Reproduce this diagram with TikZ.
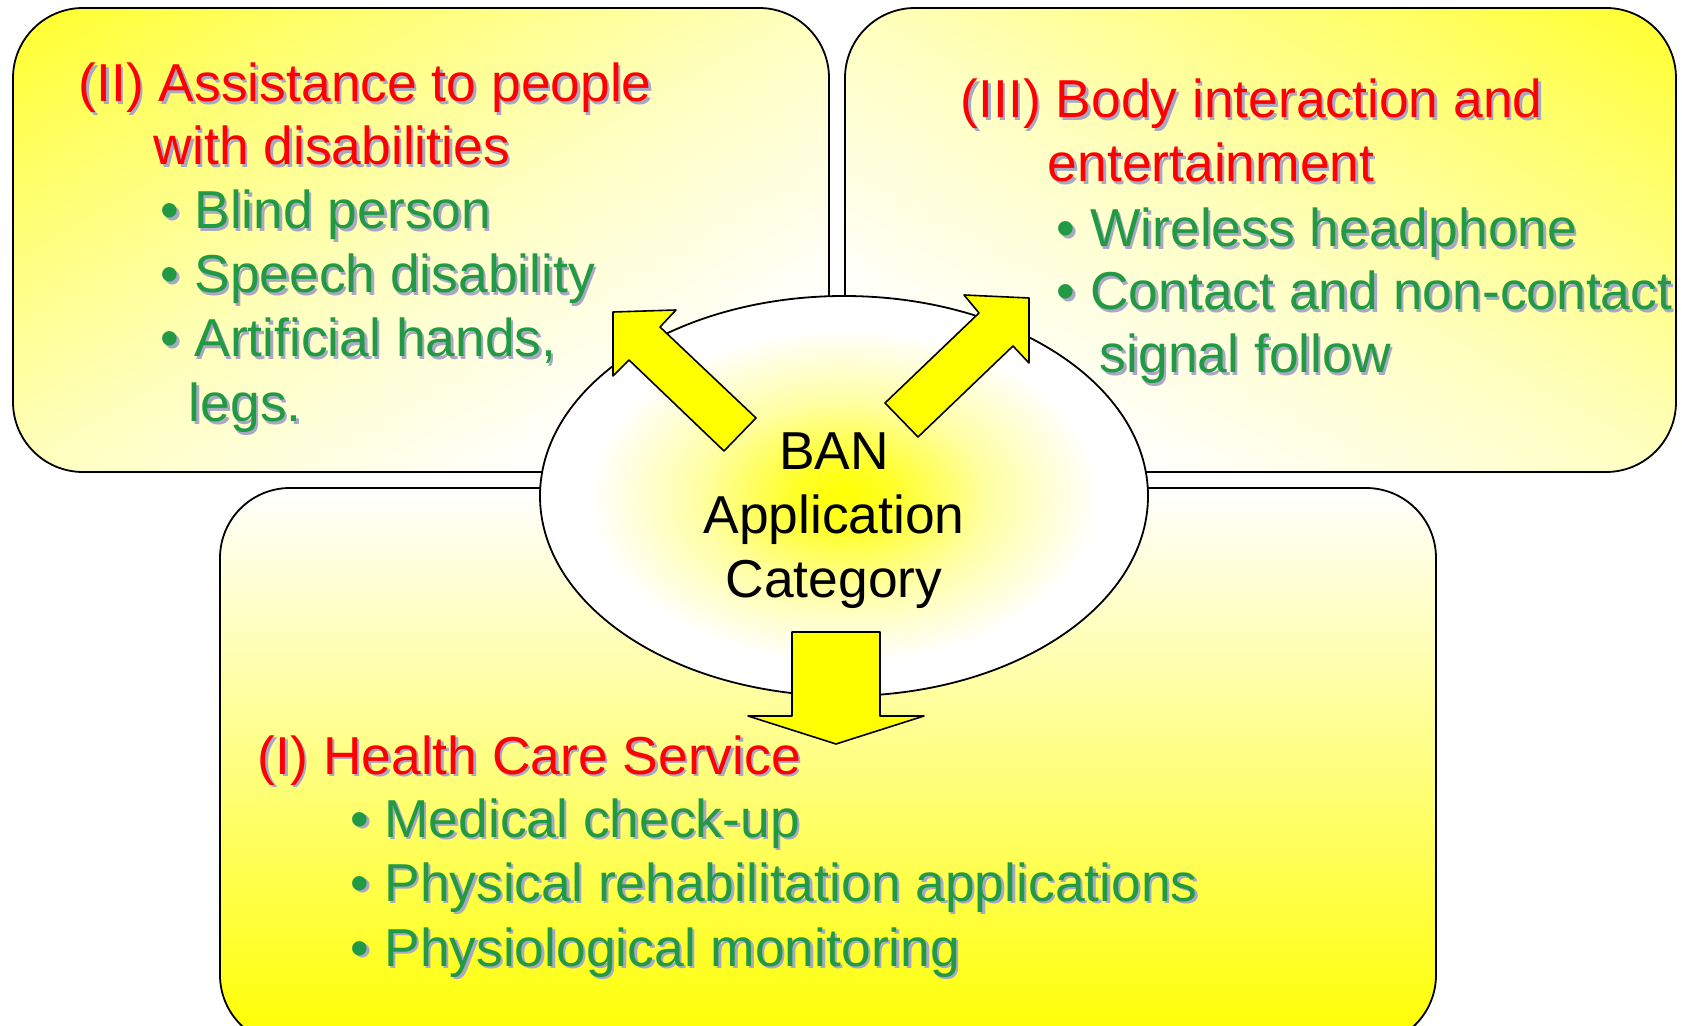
\documentclass[tikz,border=0pt]{standalone}
\usepackage{fontspec}
\setmainfont{Liberation Sans}
\usepackage{tikz}
\usetikzlibrary{shapes,arrows}
\usetikzlibrary{calc}

\definecolor{banred}{RGB}{255,0,0}
\definecolor{bangreen}{RGB}{34,153,68}
\definecolor{banyellow}{RGB}{255,255,0}
\definecolor{banshadow}{RGB}{168,168,196}

% corner fade for the upper panels, glow for the centre
\pgfdeclareverticalshading{cornerfade}{100bp}{color(0bp)=(white); color(28bp)=(white); color(50bp)=(banyellow!25); color(72bp)=(banyellow!60); color(93bp)=(banyellow); color(100bp)=(banyellow)}
\pgfdeclareradialshading{banglow}{\pgfpoint{0bp}{0bp}}{color(0bp)=(banyellow); color(4bp)=(banyellow!85); color(12bp)=(banyellow!35); color(21bp)=(white); color(50bp)=(white)}

% text with a soft grey drop shadow
\newcommand{\shadowtext}[2]{\rlap{\kern1.2pt\raisebox{-1.2pt}{\textcolor{banshadow}{#2}}}\textcolor{#1}{#2}}

\tikzstyle{every node}=[font=\fontsize{26.7}{32}\selectfont,inner sep=0pt]
\tikzstyle{every path}=[line width=0.9pt,line join=round]
\tikzstyle{item}=[anchor=base west]
\tikzstyle{panel}=[draw=black,rounded corners=35pt]
\tikzstyle{blockarrow}=[draw=black,fill=banyellow,line width=0.8pt]

\begin{document}
\begin{tikzpicture}[x=0.5pt,y=-0.5pt]
\useasboundingbox (0,0) rectangle (1682,1026);

% the three panels
\draw [panel,shading=cornerfade,shading angle=30] (13,8) rectangle (829,472);
\draw [panel,shading=cornerfade,shading angle=-29] (845,8) rectangle (1676,472);
\draw [panel,top color=white,bottom color=banyellow] (220,488) rectangle (1436,1045);

% centre ellipse
\draw [shading=banglow] (844,496) ellipse (304 and 200);

% block arrows
\draw [blockarrow] (724,451) -- (629,360) -- (613,376) -- (613,312) -- (676,310) -- (660,327) -- (756,418) -- cycle;
\draw [blockarrow] (885,403) -- (979,313) -- (964,295) -- (1029,298) -- (1029,363) -- (1013,346) -- (918,437) -- cycle;
\draw [blockarrow] (792,632) -- (880,632) -- (880,716) -- (924,716) -- (836,744) -- (748,716) -- (792,716) -- cycle;

 \node [anchor=base] (ban) at (834,470) {BAN};
 \node [anchor=base] (application) at (834,533) {Application};
 \node [anchor=base] (category) at (834,597) {Category};

% (II)
\node [item] (assistA) at (78,102) {\shadowtext{banred}{(II) Assistance to people}};
\node [item] (assistB) at (153,165) {\shadowtext{banred}{with disabilities}};
\node [item] (blind) at (160,229) {\shadowtext{bangreen}{• Blind person}};
\node [item] (speech) at (160,293) {\shadowtext{bangreen}{• Speech disability}};
\node [item] (artificial) at (160,357) {\shadowtext{bangreen}{• Artificial hands,}};
\node [item] (legs) at (188,422) {\shadowtext{bangreen}{legs.}};

% (III)
\node [item] (bodyA) at (960,118) {\shadowtext{banred}{(III) Body interaction and}};
\node [item] (bodyB) at (1047,182) {\shadowtext{banred}{entertainment}};
\node [item] (wireless) at (1056,247) {\shadowtext{bangreen}{• Wireless headphone}};
\node [item] (contact) at (1056,310) {\shadowtext{bangreen}{• Contact and non-contact}};
\node [item] (signal) at (1099,373) {\shadowtext{bangreen}{signal follow}};

% (I)
\node [item] (health) at (257,774) {\shadowtext{banred}{(I) Health Care Service}};
\node [item] (medical) at (350,837) {\shadowtext{bangreen}{• Medical check-up}};
\node [item] (physical) at (350,901) {\shadowtext{bangreen}{• Physical rehabilitation applications}};
\node [item] (physio) at (350,966) {\shadowtext{bangreen}{• Physiological monitoring}};
\end{tikzpicture}
\end{document}
